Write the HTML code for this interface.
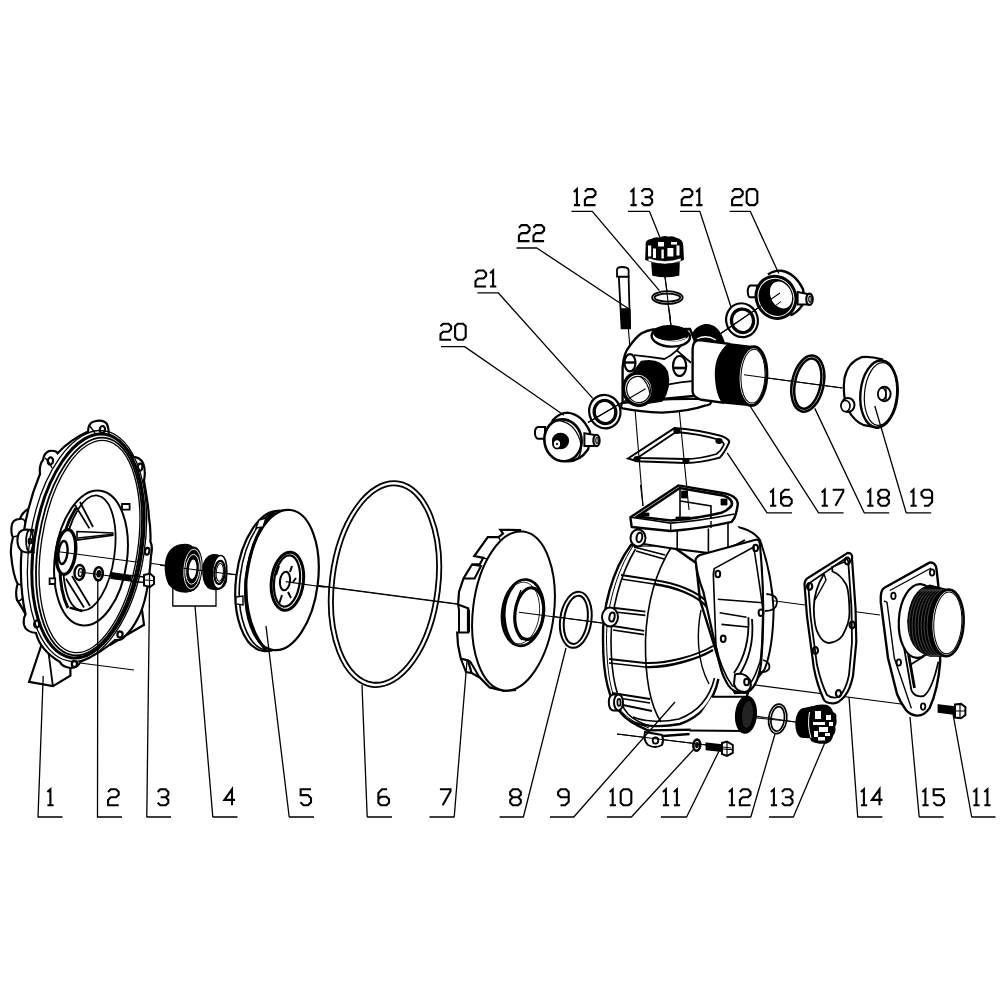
<!DOCTYPE html>
<html><head><meta charset="utf-8"><style>
html,body{margin:0;padding:0;background:#fff;width:1000px;height:1000px;overflow:hidden;font-family:"Liberation Sans",sans-serif;}
svg{display:block}
</style></head><body>
<svg width="1000" height="1000" viewBox="0 0 1000 1000"><g fill="none" stroke="#000" stroke-width="2.1" stroke-linejoin="miter" stroke-linecap="butt"><path transform="translate(47.40,789.30)" d="M0,2.8L3,0V16M0,16H6.2"/>
<path transform="translate(108.10,789.30)" d="M0,2.6L2.6,0H8L10.6,2.6V5.4L8,8H2.6L0,10.6V16H10.6"/>
<path transform="translate(157.70,789.30)" d="M0,2.6L2.6,0H8L10.6,2.6V5.4L8,8H3M8,8L10.6,10.6V13.4L8,16H2.6L0,13.4"/>
<path transform="translate(224.40,789.30)" d="M7.6,16V0L0,10.6H10.6"/>
<path transform="translate(300.40,789.30)" d="M10.6,0H0.3V5.8H7.4L10.6,9V13L7.6,16H3.2L0,13"/>
<path transform="translate(378.40,789.30)" d="M8.6,0H3.6L0,3.6V13.4L2.6,16H8L10.6,13.4V10L8,7.4H2.6L0,10"/>
<path transform="translate(439.90,789.30)" d="M0,0H10.6V2L2.8,16"/>
<path transform="translate(510.20,789.30)" d="M2.6,0H8L10.6,2.6V5.4L8,8H2.6L0,5.4V2.6ZM2.6,8L0,10.6V13.4L2.6,16H8L10.6,13.4V10.6L8,8"/>
<path transform="translate(558.10,789.30)" d="M2.4,16H7L10.6,12.4V2.6L8,0H2.6L0,2.6V5.4L2.6,8H10.6"/>
<path transform="translate(609.70,789.30)" d="M0,2.8L3,0V16M0,16H6.2"/>
<path transform="translate(620.70,789.30)" d="M2.6,0H8L10.6,2.6V13.4L8,16H2.6L0,13.4V2.6Z"/>
<path transform="translate(662.90,789.30)" d="M0,2.8L3,0V16M0,16H6.2"/>
<path transform="translate(673.90,789.30)" d="M0,2.8L3,0V16M0,16H6.2"/>
<path transform="translate(728.90,789.30)" d="M0,2.8L3,0V16M0,16H6.2"/>
<path transform="translate(739.90,789.30)" d="M0,2.6L2.6,0H8L10.6,2.6V5.4L8,8H2.6L0,10.6V16H10.6"/>
<path transform="translate(770.90,789.30)" d="M0,2.8L3,0V16M0,16H6.2"/>
<path transform="translate(781.90,789.30)" d="M0,2.6L2.6,0H8L10.6,2.6V5.4L8,8H3M8,8L10.6,10.6V13.4L8,16H2.6L0,13.4"/>
<path transform="translate(860.90,789.30)" d="M0,2.8L3,0V16M0,16H6.2"/>
<path transform="translate(871.90,789.30)" d="M7.6,16V0L0,10.6H10.6"/>
<path transform="translate(922.40,789.30)" d="M0,2.8L3,0V16M0,16H6.2"/>
<path transform="translate(933.40,789.30)" d="M10.6,0H0.3V5.8H7.4L10.6,9V13L7.6,16H3.2L0,13"/>
<path transform="translate(973.40,789.30)" d="M0,2.8L3,0V16M0,16H6.2"/>
<path transform="translate(984.40,789.30)" d="M0,2.8L3,0V16M0,16H6.2"/>
<path transform="translate(573.90,189.10)" d="M0,2.8L3,0V16M0,16H6.2"/>
<path transform="translate(584.90,189.10)" d="M0,2.6L2.6,0H8L10.6,2.6V5.4L8,8H2.6L0,10.6V16H10.6"/>
<path transform="translate(630.50,189.10)" d="M0,2.8L3,0V16M0,16H6.2"/>
<path transform="translate(641.50,189.10)" d="M0,2.6L2.6,0H8L10.6,2.6V5.4L8,8H3M8,8L10.6,10.6V13.4L8,16H2.6L0,13.4"/>
<path transform="translate(681.70,189.10)" d="M0,2.6L2.6,0H8L10.6,2.6V5.4L8,8H2.6L0,10.6V16H10.6"/>
<path transform="translate(696.30,189.10)" d="M0,2.8L3,0V16M0,16H6.2"/>
<path transform="translate(732.10,189.10)" d="M0,2.6L2.6,0H8L10.6,2.6V5.4L8,8H2.6L0,10.6V16H10.6"/>
<path transform="translate(746.70,189.10)" d="M2.6,0H8L10.6,2.6V13.4L8,16H2.6L0,13.4V2.6Z"/>
<path transform="translate(518.90,225.10)" d="M0,2.6L2.6,0H8L10.6,2.6V5.4L8,8H2.6L0,10.6V16H10.6"/>
<path transform="translate(533.50,225.10)" d="M0,2.6L2.6,0H8L10.6,2.6V5.4L8,8H2.6L0,10.6V16H10.6"/>
<path transform="translate(475.50,270.50)" d="M0,2.6L2.6,0H8L10.6,2.6V5.4L8,8H2.6L0,10.6V16H10.6"/>
<path transform="translate(490.10,270.50)" d="M0,2.8L3,0V16M0,16H6.2"/>
<path transform="translate(440.50,323.70)" d="M0,2.6L2.6,0H8L10.6,2.6V5.4L8,8H2.6L0,10.6V16H10.6"/>
<path transform="translate(455.10,323.70)" d="M2.6,0H8L10.6,2.6V13.4L8,16H2.6L0,13.4V2.6Z"/>
<path transform="translate(770.10,489.70)" d="M0,2.8L3,0V16M0,16H6.2"/>
<path transform="translate(781.10,489.70)" d="M8.6,0H3.6L0,3.6V13.4L2.6,16H8L10.6,13.4V10L8,7.4H2.6L0,10"/>
<path transform="translate(821.70,489.70)" d="M0,2.8L3,0V16M0,16H6.2"/>
<path transform="translate(832.70,489.70)" d="M0,0H10.6V2L2.8,16"/>
<path transform="translate(867.30,489.70)" d="M0,2.8L3,0V16M0,16H6.2"/>
<path transform="translate(878.30,489.70)" d="M2.6,0H8L10.6,2.6V5.4L8,8H2.6L0,5.4V2.6ZM2.6,8L0,10.6V13.4L2.6,16H8L10.6,13.4V10.6L8,8"/>
<path transform="translate(910.50,489.70)" d="M0,2.8L3,0V16M0,16H6.2"/>
<path transform="translate(921.50,489.70)" d="M2.4,16H7L10.6,12.4V2.6L8,0H2.6L0,2.6V5.4L2.6,8H10.6"/></g>
<path d="M57,551L603,623" fill="none" stroke="#000" stroke-width="1.1" />
<path d="M80,572L150,582" fill="none" stroke="#000" stroke-width="1.1" />
<path d="M80,663L134,670" fill="none" stroke="#000" stroke-width="1.1" />
<path d="M741,596.5L880,615" fill="none" stroke="#000" stroke-width="1.1" />
<path d="M740,683L901,704" fill="none" stroke="#000" stroke-width="1.1" />
<path d="M748,717L797,722" fill="none" stroke="#000" stroke-width="1.1" />
<path d="M617,734L731,748" fill="none" stroke="#000" stroke-width="1.1" />
<path d="M626,300L643,506" fill="none" stroke="#000" stroke-width="1.1" />
<path d="M669.4,310L689,510" fill="none" stroke="#000" stroke-width="1.1" />
<path d="M664.8,274.8L670.8,325" fill="none" stroke="#000" stroke-width="1.1" />
<path d="M780,293L720,334" fill="none" stroke="#000" stroke-width="1.1" />
<path d="M588,422.4L645.6,388.8" fill="none" stroke="#000" stroke-width="1.1" />
<path d="M744,374.8L842.4,388" fill="none" stroke="#000" stroke-width="1.1" />
<path d="M755,716L795,722" fill="none" stroke="#000" stroke-width="1.1" />
<path d="M42.4,642L29.1,681.8L52.9,686.1L70.4,675.6L70.4,668L78,650L50,630Z" fill="#fff" stroke="#000" stroke-width="2.2" />
<path d="M42.4,642L47.3,643.4L52.9,686.1" fill="none" stroke="#000" stroke-width="1.8" />
<path d="M138,580L144,624.8L124.8,636L110,645L100,640Z" fill="#fff" stroke="#000" stroke-width="2.2" />
<path d="M30,508Q22,512 20,519Q12,519 11.5,527Q11,535 13,537Q10,548 11.2,556Q13,575 17.6,584Q15,592 17,600Q20,604 25.6,614.4L40,600L40,508Z" fill="#fff" stroke="#000" stroke-width="2.2" />
<path d="M20,519Q26,518 26,527Q25,535 13,537" fill="none" stroke="#000" stroke-width="1.6" />
<path d="M17.6,584Q23,584 24,592Q24,601 17,601" fill="none" stroke="#000" stroke-width="1.6" />
<path d="M88,431.6Q88,423 94,421.5Q103,419 107,424Q109,429 108.8,434.4Q124,442 132.8,456.8Q140,457 143,463Q146,470 144,480.8Q149,510 148.8,516Q151,530 150.4,541.6Q153,547 151,556Q148,600 138,618Q132,630 125,636Q121,641 115,640Q100,654 80,662Q78,668 71,668Q62,667 60,662Q40,650 36,633Q26,632 24,625Q23,618 25.6,614.4Q20,590 21,560Q23,515 40,474Q39,465 43,460Q44,453 49,451Q56,450 57.6,453.2Q70,440 88,431.6Z" fill="#fff" stroke="#000" stroke-width="2.2" />
<ellipse cx="102.4" cy="429.6" rx="2.6" ry="3.6" transform="rotate(10 102.4 429.6)" fill="none" stroke="#000" stroke-width="2.2" />
<ellipse cx="140" cy="467.2" rx="2.4" ry="3.6" transform="rotate(10 140 467.2)" fill="none" stroke="#000" stroke-width="2.2" />
<ellipse cx="147.2" cy="551.2" rx="2.2" ry="3.4" transform="rotate(10 147.2 551.2)" fill="none" stroke="#000" stroke-width="2.2" />
<ellipse cx="50.4" cy="461" rx="2.6" ry="3.6" transform="rotate(10 50.4 461)" fill="none" stroke="#000" stroke-width="2.2" />
<ellipse cx="29.6" cy="540.8" rx="2.6" ry="3.6" transform="rotate(10 29.6 540.8)" fill="none" stroke="#000" stroke-width="2.2" />
<ellipse cx="36.8" cy="624" rx="2.6" ry="3.6" transform="rotate(10 36.8 624)" fill="none" stroke="#000" stroke-width="2.2" />
<ellipse cx="74.4" cy="664" rx="2.6" ry="3" transform="rotate(10 74.4 664)" fill="none" stroke="#000" stroke-width="2.2" />
<ellipse cx="120" cy="634.5" rx="2.6" ry="3" transform="rotate(10 120 634.5)" fill="none" stroke="#000" stroke-width="2.2" />
<path d="M89,425Q93,430 95,433M45,458Q49,461 52,468" fill="none" stroke="#000" stroke-width="1.4" />
<path d="M26,529.6Q17,530 17.4,541Q18,552 27,552.4L33.6,552Q30,541 33,530Z" fill="#fff" stroke="#000" stroke-width="2.0" />
<ellipse cx="29.6" cy="541" rx="3.5" ry="11" transform="rotate(0 29.6 541)" fill="#fff" stroke="#000" stroke-width="1.8" />
<ellipse cx="30" cy="541" rx="1.4" ry="2.6" transform="rotate(0 30 541)" fill="none" stroke="#000" stroke-width="2.0" />
<ellipse cx="87" cy="546" rx="57.5" ry="116.5" transform="rotate(8.7 87 546)" fill="none" stroke="#000" stroke-width="1.3" />
<ellipse cx="88" cy="546" rx="54" ry="113" transform="rotate(8.7 88 546)" fill="none" stroke="#000" stroke-width="3.0" />
<ellipse cx="89" cy="546.5" rx="50.8" ry="109.8" transform="rotate(8.7 89 546.5)" fill="none" stroke="#000" stroke-width="1.8" />
<ellipse cx="89.5" cy="546.5" rx="48.2" ry="107.2" transform="rotate(8.7 89.5 546.5)" fill="none" stroke="#000" stroke-width="1.3" />
<ellipse cx="91" cy="558" rx="36" ry="68" transform="rotate(8 91 558)" fill="#fff" stroke="#000" stroke-width="2.0" />
<ellipse cx="89.5" cy="553" rx="25" ry="58" transform="rotate(8 89.5 553)" fill="none" stroke="#000" stroke-width="1.8" />
<path d="M76,508Q62,530 60,560Q59,590 68,608" fill="none" stroke="#000" stroke-width="3.0" />
<path d="M75,505L89.4,528.4M80,502L93,527" fill="none" stroke="#000" stroke-width="1.8" />
<path d="M77,531.5L112.8,533L112.8,535.4L77,540Z" fill="#fff" stroke="#000" stroke-width="1.6" />
<path d="M78,538L112.8,534.2" fill="none" stroke="#000" stroke-width="1.4" />
<path d="M66,578.8L84,607.6M72,576L90,606" fill="none" stroke="#000" stroke-width="1.8" />
<path d="M69.6,607.6L82.2,611" fill="none" stroke="#000" stroke-width="2.5" />
<ellipse cx="66" cy="552" rx="9.5" ry="22.5" transform="rotate(6 66 552)" fill="#fff" stroke="#000" stroke-width="3.4" />
<ellipse cx="63" cy="552.5" rx="4.5" ry="11.5" transform="rotate(6 63 552.5)" fill="none" stroke="#000" stroke-width="2.4" />
<ellipse cx="79.5" cy="572.5" rx="5" ry="7.5" transform="rotate(5 79.5 572.5)" fill="#fff" stroke="#000" stroke-width="2.4" />
<ellipse cx="80.5" cy="572.5" rx="2" ry="4" transform="rotate(5 80.5 572.5)" fill="none" stroke="#000" stroke-width="1.6" />
<path d="M122,504h7.6v5.6h-7.6ZM49.6,578.4h5.6v5.6h-5.6Z" fill="#fff" stroke="#000" stroke-width="1.8" />
<path d="M155,540L155,540" fill="none" stroke="#000" stroke-width="1" />
<ellipse cx="98.5" cy="573.8" rx="4.3" ry="6.6" transform="rotate(5 98.5 573.8)" fill="#fff" stroke="#000" stroke-width="2.6" /><ellipse cx="98.8" cy="573.8" rx="1.6" ry="3" transform="rotate(5 98.8 573.8)" fill="#000" stroke="#000" stroke-width="1.6" />
<path d="M111,572.5L131,575.5V581L111,578.5Z" fill="#000" stroke="#000" stroke-width="1.2" />
<path d="M131,575.5L144,577M131,581L144,582.5" fill="none" stroke="#000" stroke-width="1.6" />
<path d="M144,575L150,573.6L154,577L154,584L150,587L144,585.5Z" fill="#fff" stroke="#000" stroke-width="2.0" />
<path d="M144,580L154,580.5M149.5,574V587" fill="none" stroke="#000" stroke-width="1.2" />
<path d="M180,545Q190,543 193,548L199,556Q202,570 199,583Q196,591 186,592Q175,592 169,584Q165,575 165.5,565Q167,548 180,545Z" fill="#000" stroke="#000" stroke-width="1.6" />
<ellipse cx="192" cy="569" rx="10" ry="22" transform="rotate(5 192 569)" fill="#000" stroke="#000" stroke-width="1.0" />
<ellipse cx="192.5" cy="569" rx="8.6" ry="20" transform="rotate(5 192.5 569)" fill="none" stroke="#fff" stroke-width="0.9" />
<ellipse cx="192.5" cy="569.3" rx="6.8" ry="15" transform="rotate(5 192.5 569.3)" fill="none" stroke="#fff" stroke-width="0.9" />
<ellipse cx="192.6" cy="569.3" rx="4.6" ry="10.6" transform="rotate(5 192.6 569.3)" fill="#fff" stroke="#000" stroke-width="1.6" />
<path d="M212,555Q220,554 224,560Q228,570 226,582Q223,590 215,589.5Q206,589 204,580Q202,570 204,563Q207,556 212,555Z" fill="#000" stroke="#000" stroke-width="1.6" />
<ellipse cx="219.5" cy="572" rx="7.2" ry="16.5" transform="rotate(5 219.5 572)" fill="#fff" stroke="#000" stroke-width="1.6" />
<ellipse cx="219.6" cy="572.4" rx="5.2" ry="11.6" transform="rotate(5 219.6 572.4)" fill="#fff" stroke="#000" stroke-width="2.2" />
<ellipse cx="219.8" cy="572.4" rx="3.6" ry="9" transform="rotate(5 219.8 572.4)" fill="#fff" stroke="#000" stroke-width="1.0" />
<path d="M172.8,588V606H216V588" fill="none" stroke="#000" stroke-width="1.3" />
<ellipse cx="272" cy="581" rx="36" ry="70.5" transform="rotate(7 272 581)" fill="#fff" stroke="#000" stroke-width="2.2" />
<ellipse cx="276" cy="580.5" rx="36" ry="70.5" transform="rotate(7 276 580.5)" fill="none" stroke="#000" stroke-width="1.6" />
<ellipse cx="282" cy="580" rx="36" ry="70.5" transform="rotate(7 282 580)" fill="#fff" stroke="#000" stroke-width="2.2" />
<path d="M275,512Q252,530 246,580Q244,625 266,650" fill="none" stroke="#000" stroke-width="3.2" />
<ellipse cx="287.4" cy="581.2" rx="16" ry="29.2" transform="rotate(7 287.4 581.2)" fill="#fff" stroke="#000" stroke-width="3.0" />
<ellipse cx="287" cy="581" rx="12.8" ry="25.8" transform="rotate(7 287 581)" fill="none" stroke="#000" stroke-width="2.2" />
<ellipse cx="285" cy="581" rx="5" ry="9.4" transform="rotate(7 285 581)" fill="none" stroke="#000" stroke-width="2.0" />
<path d="M279,566L276,575M291,598L288,592M282,595L279,604M292,566L290,572M296,578L293,582" fill="none" stroke="#000" stroke-width="2.0" />
<path d="M259,520L266,518L263,527L256,528ZM236,597L243,596L243,605L236,604Z" fill="#fff" stroke="#000" stroke-width="1.4" />
<ellipse cx="385" cy="584.1" rx="55.2" ry="103.5" transform="rotate(7 385 584.1)" fill="none" stroke="#000" stroke-width="1.8" /><ellipse cx="385" cy="584.1" rx="50.900000000000006" ry="99.2" transform="rotate(7 385 584.1)" fill="none" stroke="#000" stroke-width="1.8" />
<path d="M500.4,529.9L503,533.5L498.6,537.1L487.8,537.1L474.3,556L483.3,557.8L480,564L472,564.5L463.5,578.5L459,592L458.1,604.6L468,608.2L468,632.5L457.2,632.5L458,645L460.8,658.6L468,660.4L471.6,673L479.7,677.5L489.6,687.4L504,691L515,690L520,530Z" fill="#fff" stroke="#000" stroke-width="2.2" />
<path d="M472,564.5L481,566L474.6,578.5L463.5,578.5M458.1,604.6L459,610L459,632.5M468,608.2L469,611L469,632.5M468,660.4L470.5,662L479.6,677.5M460.8,658.6L466,672L471.6,673" fill="none" stroke="#000" stroke-width="2.0" />
<path d="M498.6,537.1L503,545M483.3,557.8L490,560" fill="none" stroke="#000" stroke-width="1.4" />
<ellipse cx="513.5" cy="611" rx="40.5" ry="80" transform="rotate(7 513.5 611)" fill="#fff" stroke="#000" stroke-width="2.0" />
<ellipse cx="522.9" cy="612.7" rx="20.7" ry="33.3" transform="rotate(7 522.9 612.7)" fill="#fff" stroke="#000" stroke-width="2.6" />
<ellipse cx="521" cy="613" rx="18.4" ry="31" transform="rotate(7 521 613)" fill="none" stroke="#000" stroke-width="0.8" />
<path d="M514,585Q504,597 504,615Q505,635 514,644" fill="none" stroke="#000" stroke-width="3.0" />
<ellipse cx="529.2" cy="613.6" rx="14.2" ry="26" transform="rotate(7 529.2 613.6)" fill="none" stroke="#000" stroke-width="3.2" />
<path d="M521,590Q514,605 515,622Q517,636 522,640" fill="none" stroke="#000" stroke-width="1.4" />
<ellipse cx="575.8" cy="619.8" rx="15.6" ry="28.2" transform="rotate(8 575.8 619.8)" fill="none" stroke="#000" stroke-width="2.0" /><ellipse cx="575.8" cy="619.8" rx="11.7" ry="24.3" transform="rotate(8 575.8 619.8)" fill="none" stroke="#000" stroke-width="2.0" />
<ellipse cx="777.7" cy="718.9" rx="9.1" ry="14.8" transform="rotate(7 777.7 718.9)" fill="none" stroke="#000" stroke-width="1.7" /><ellipse cx="777.7" cy="718.9" rx="6.699999999999999" ry="12.4" transform="rotate(7 777.7 718.9)" fill="none" stroke="#000" stroke-width="1.7" />
<ellipse cx="807.8" cy="383.6" rx="15.8" ry="28.5" transform="rotate(12 807.8 383.6)" fill="none" stroke="#000" stroke-width="2.5" /><ellipse cx="807.8" cy="383.6" rx="12.8" ry="25.5" transform="rotate(12 807.8 383.6)" fill="none" stroke="#000" stroke-width="2.5" />
<ellipse cx="742" cy="320.2" rx="15.8" ry="17" transform="rotate(-15 742 320.2)" fill="none" stroke="#000" stroke-width="2.2" /><ellipse cx="742.5" cy="320.8" rx="11" ry="11.8" transform="rotate(-15 742.5 320.8)" fill="none" stroke="#000" stroke-width="3.2" />
<ellipse cx="604.8" cy="411.6" rx="15.6" ry="16.8" transform="rotate(-15 604.8 411.6)" fill="none" stroke="#000" stroke-width="2.2" /><ellipse cx="605" cy="412" rx="10.8" ry="11.6" transform="rotate(-15 605 412)" fill="none" stroke="#000" stroke-width="3.2" />
<ellipse cx="667.4" cy="297.6" rx="15.3" ry="6.4" transform="rotate(0 667.4 297.6)" fill="none" stroke="#000" stroke-width="1.8" /><ellipse cx="667.4" cy="297.6" rx="12.9" ry="4.0" transform="rotate(0 667.4 297.6)" fill="none" stroke="#000" stroke-width="1.8" />
<path d="M728.6,525.4Q752,528 760,540Q772,574 773.6,610Q773,648 764.6,669.4L748,690" fill="#fff" stroke="#000" stroke-width="2.0" />
<path d="M766.4,594Q778,595 777,603Q776,611 765,611" fill="none" stroke="#000" stroke-width="1.8" />
<path d="M763,660Q771,662 769,669Q766,673 760,672" fill="none" stroke="#000" stroke-width="1.8" />
<path d="M631,545C612,570 602,610 603,640C603,675 608,700 621,713Q628,722 648,730.4L739,729L748,692L735,693L720,664L700,600L696,563L672,546Z" fill="#fff" stroke="#000" stroke-width="2.4" />
<path d="M635.5,549C620,575 611,610 611,640C611,675 616,700 628,714Q636,722 650,726" fill="none" stroke="#000" stroke-width="1.6" />
<path d="M633,546C616,572 606,610 606.5,640C607,676 612,702 624,714Q632,722 649,728" fill="none" stroke="#000" stroke-width="1.0" />
<path d="M672,546C658,568 647,600 645.5,640C645,675 650,705 661,722" fill="none" stroke="#000" stroke-width="1.6" />
<path d="M634,547L665,555" fill="none" stroke="#000" stroke-width="1.8" />
<path d="M621,575L654,580" fill="none" stroke="#000" stroke-width="1.8" />
<path d="M615,608L645.4,611.6" fill="none" stroke="#000" stroke-width="1.8" />
<path d="M613,626L644.2,630.8" fill="none" stroke="#000" stroke-width="1.8" />
<path d="M609,659L645,663" fill="none" stroke="#000" stroke-width="1.8" />
<path d="M612,693L650,699" fill="none" stroke="#000" stroke-width="1.8" />
<path d="M618,704L652,711" fill="none" stroke="#000" stroke-width="1.8" />
<path d="M636,551L664,559" fill="none" stroke="#000" stroke-width="1.6" />
<path d="M621,579L654,584" fill="none" stroke="#000" stroke-width="1.6" />
<path d="M615,612L645.4,615.4" fill="none" stroke="#000" stroke-width="1.6" />
<path d="M613,630L644.2,634.6" fill="none" stroke="#000" stroke-width="1.6" />
<path d="M609,663L645,667" fill="none" stroke="#000" stroke-width="1.6" />
<path d="M612,697L650,703" fill="none" stroke="#000" stroke-width="1.6" />
<path d="M654,580C675,583 698,591 709,604" fill="none" stroke="#000" stroke-width="2.0" />
<path d="M654,584C675,587 697,595 708,608" fill="none" stroke="#000" stroke-width="2.4" />
<path d="M645,663C668,664 698,655 713,646" fill="none" stroke="#000" stroke-width="2.0" />
<path d="M645,667C668,668 698,659 713,650" fill="none" stroke="#000" stroke-width="2.4" />
<path d="M718.4,679C714,700 703,716 680,724C660,728 640,726 630,721" fill="none" stroke="#000" stroke-width="2.4" />
<path d="M714.5,678C710,697 700,711 679,719C660,723 642,721 633,717" fill="none" stroke="#000" stroke-width="1.6" />
<path d="M701,610C697,630 696,660 709,684" fill="none" stroke="#000" stroke-width="1.4" />
<path d="M632,527L637,545L672,548Q700,553 710,553L745,538L733,519Z" fill="#fff" stroke="#000" stroke-width="0" />
<path d="M637,527V543M637,543Q672,549 708.4,553Q728,550 745,540" fill="none" stroke="#000" stroke-width="1.8" />
<path d="M677.2,531V548M708.4,528.5V553M728,523V548" fill="none" stroke="#000" stroke-width="1.6" />
<path d="M630.4,517.3L678.5,485.4L724,493.2Q740,497 737.5,506Q736.5,513 734.4,518L731.8,521.8Q705,528 670.7,531Q650,529 631.7,527Z" fill="#fff" stroke="#000" stroke-width="2.4" />
<path d="M630.4,517.3Q650,520 670.7,523.1Q700,521 734.4,514" fill="none" stroke="#000" stroke-width="1.6" />
<path d="M670.7,523.1V531M711,521V528" fill="none" stroke="#000" stroke-width="1.4" />
<path d="M637,516.6L679.8,488L724,495.8Q733,499 731.8,505Q729,510 721.4,512.7Q700,518 670.7,520.5Z" fill="#fff" stroke="#000" stroke-width="2.6" />
<path d="M680,488.5V518M680.5,501L711,506V519" fill="none" stroke="#000" stroke-width="1.6" />
<path d="M681.5,491h6v7h-6ZM721,499h6v6h-6ZM641,513h8v3h-8ZM676,517h14v3h-14Z" fill="#000" stroke="#000" stroke-width="0.8" />
<ellipse cx="638" cy="538" rx="7.5" ry="8.5" transform="rotate(0 638 538)" fill="#fff" stroke="#000" stroke-width="2.0" />
<ellipse cx="639.4" cy="537.4" rx="2.8" ry="4.8" transform="rotate(10 639.4 537.4)" fill="none" stroke="#000" stroke-width="2.0" />
<ellipse cx="610" cy="617" rx="8" ry="9.5" transform="rotate(0 610 617)" fill="#fff" stroke="#000" stroke-width="2.0" />
<ellipse cx="612" cy="617" rx="2.6" ry="4.6" transform="rotate(10 612 617)" fill="none" stroke="#000" stroke-width="2.0" />
<path d="M620,694.4L613,694.4Q608.8,696 608.8,702Q609,710 613,710.4L620,710.4Z" fill="#fff" stroke="#000" stroke-width="2.0" />
<ellipse cx="618.5" cy="702.4" rx="4.5" ry="8" transform="rotate(0 618.5 702.4)" fill="#fff" stroke="#000" stroke-width="2.0" />
<ellipse cx="619" cy="702.4" rx="1.6" ry="3.5" transform="rotate(0 619 702.4)" fill="none" stroke="#000" stroke-width="1.8" />
<path d="M652.8,736.8L689.6,734" fill="none" stroke="#000" stroke-width="2.6" />
<path d="M645,732Q643,740 648,745Q655,749 662,745Q664,740 662,735Z" fill="#fff" stroke="#000" stroke-width="2.0" />
<ellipse cx="655.5" cy="740.5" rx="2.8" ry="3.2" transform="rotate(0 655.5 740.5)" fill="none" stroke="#000" stroke-width="1.8" />
<path d="M696,563Q694,558 700,555L755.6,539.8Q760,539 760,545Q766,610 761,664Q757,690 745,693Q733,693 728,685Q722,675 719.6,664L703.4,592Q697,575 696,563Z" fill="#fff" stroke="#000" stroke-width="2.2" />
<path d="M714.2,568.6L753.8,547Q762,600 762.8,610Q762,660 759.2,664Q752,686 744.8,687.4Q736,688 732.2,685.6Q721,670 716,646L713.3,574Z" fill="none" stroke="#000" stroke-width="1.6" />
<path d="M717.8,599.2L762.8,602.8M719.6,612.7L746.6,617.2M721.4,624.4L748,627" fill="none" stroke="#000" stroke-width="1.6" />
<path d="M748.4,617.2Q750,650 734,673M752,619Q755,652 738,677" fill="none" stroke="#000" stroke-width="1.8" />
<ellipse cx="717.8" cy="574" rx="2.4" ry="3.2" transform="rotate(0 717.8 574)" fill="none" stroke="#000" stroke-width="2.0" />
<ellipse cx="755.6" cy="547.9" rx="2.4" ry="3.2" transform="rotate(0 755.6 547.9)" fill="none" stroke="#000" stroke-width="2.0" />
<ellipse cx="761" cy="612.7" rx="2.4" ry="3.2" transform="rotate(0 761 612.7)" fill="none" stroke="#000" stroke-width="2.0" />
<ellipse cx="723.2" cy="638.8" rx="2.4" ry="3.2" transform="rotate(0 723.2 638.8)" fill="none" stroke="#000" stroke-width="2.0" />
<ellipse cx="746.6" cy="682" rx="2.4" ry="3.2" transform="rotate(0 746.6 682)" fill="none" stroke="#000" stroke-width="2.0" />
<path d="M712,696.8L746,696.8L746,731L689.6,730.4" fill="#fff" stroke="#000" stroke-width="2.0" />
<ellipse cx="746" cy="714.8" rx="10" ry="18" transform="rotate(5 746 714.8)" fill="#000" stroke="#000" stroke-width="2.0" />
<ellipse cx="747.5" cy="714.5" rx="6" ry="14" transform="rotate(5 747.5 714.5)" fill="#222" stroke="#000" stroke-width="1.0" />
<path d="M735,674.4Q745,672 750,680Q753,690 745,692Q736,692 734,684Z" fill="#fff" stroke="#000" stroke-width="2.0" />
<ellipse cx="746.6" cy="682" rx="2.4" ry="3.2" transform="rotate(0 746.6 682)" fill="none" stroke="#000" stroke-width="2.0" />
<ellipse cx="696.8" cy="745.2" rx="3.4" ry="5.6" transform="rotate(5 696.8 745.2)" fill="#fff" stroke="#000" stroke-width="2.6" /><ellipse cx="697" cy="745.2" rx="1.2" ry="2.4" transform="rotate(5 697 745.2)" fill="#000" stroke="#000" stroke-width="1.4" />
<path d="M706.4,743.2L721.6,745V751.2L706.4,749.6Z" fill="#000" stroke="#000" stroke-width="1.6" />
<path d="M722,743L727,741.6L732.8,745L732.8,753L727,756L722,754Z" fill="#fff" stroke="#000" stroke-width="2.0" />
<path d="M722,749L732.8,749.5M727,742V756" fill="none" stroke="#000" stroke-width="1.2" />
<ellipse cx="803" cy="723" rx="7" ry="14" transform="rotate(3 803 723)" fill="#000" stroke="#000" stroke-width="1.5" />
<path d="M803,709L812,707L814,738L803,737Z" fill="#000" stroke="#000" stroke-width="1.5" />
<path d="M812,708Q818,705 826,706Q831,708 832,713Q836,714 835,718Q836,724 834,726Q835,732 832,735Q831,741 826,742.5Q816,743 812,740Q806,725 812,708Z" fill="#000" stroke="#000" stroke-width="2.6" />
<path d="M809.5,712Q807,725 811,738" fill="none" stroke="#fff" stroke-width="1.0" />
<rect x="815" y="711" width="6" height="8" fill="#fff"/>
<rect x="813" y="722" width="12" height="3" fill="#fff"/>
<rect x="819" y="727" width="9" height="5" fill="#fff"/>
<rect x="814" y="731" width="4" height="6" fill="#fff"/>
<rect x="818" y="737" width="7" height="3.5" fill="#fff"/>
<rect x="826" y="715" width="5" height="5" fill="#fff"/>
<rect x="829" y="722" width="4" height="4" fill="#fff"/>
<rect x="825" y="733" width="5" height="3" fill="#fff"/>
<path d="M847.8,552.8Q853,553 852,558.7L855.5,608L856.3,642L853,676Q850,690 844.4,696.5Q838,704 832.5,703.3Q826,703 824,700Q817,685 813.8,667.5L807,616.5L804.5,584.2Q805,579 808.7,577.4Z" fill="#fff" stroke="#000" stroke-width="2.2" />
<path d="M845.5,558.5Q849,560 848.5,565L851.5,608L852,642L849,675Q846,690 839,697Q832,699 827,695Q821,683 817,665L810.5,616L808.5,588Q808.5,583 811,582Z" fill="none" stroke="#000" stroke-width="1.8" />
<path d="M824,574Q814,590 813.8,608Q814,628 819,635.2Q823,643 829,643Q838,642 842.7,635.2Q850,622 849.5,611.4Q849,590 846,584.2Q840,574 832.5,571.5L832,567L844,562" fill="none" stroke="#000" stroke-width="1.8" />
<path d="M824,574L826,580L815,600" fill="none" stroke="#000" stroke-width="1.4" />

<ellipse cx="847.3" cy="561" rx="2.6" ry="3.4" transform="rotate(0 847.3 561)" fill="none" stroke="#000" stroke-width="2.2" />

<ellipse cx="809.6" cy="586.4" rx="2.6" ry="3.4" transform="rotate(0 809.6 586.4)" fill="none" stroke="#000" stroke-width="2.2" />

<ellipse cx="852.2" cy="625" rx="2.6" ry="3.4" transform="rotate(0 852.2 625)" fill="none" stroke="#000" stroke-width="2.2" />

<ellipse cx="815.4" cy="650.5" rx="2.6" ry="3.4" transform="rotate(0 815.4 650.5)" fill="none" stroke="#000" stroke-width="2.2" />

<ellipse cx="838.5" cy="693.5" rx="2.6" ry="3.4" transform="rotate(0 838.5 693.5)" fill="none" stroke="#000" stroke-width="2.2" />
<path d="M929.4,562.6Q936,562 936.6,569.8L938.4,586L940.2,661.6Q938,690 929.4,708.4Q924,716 916.8,715.6Q910,715 906,710Q900,702 897,694L888,658L880.8,602.2Q880,590 884.4,587.8Z" fill="#fff" stroke="#000" stroke-width="2.4" />
<path d="M888,586L929.4,562.6M889.8,590.5L931.2,568" fill="none" stroke="#000" stroke-width="1.4" />
<path d="M884,601L887,602.2L894.3,658L911.4,708.4" fill="none" stroke="#000" stroke-width="1.4" />
<path d="M902.4,638.2L911.4,690.4Q915,698 924,695.8Q932,690 938.4,661.6" fill="none" stroke="#000" stroke-width="1.8" />
<path d="M906,640L914.5,688" fill="none" stroke="#000" stroke-width="2.8" />
<path d="M909.6,665.2L924,656.2" fill="none" stroke="#000" stroke-width="1.6" />
<ellipse cx="918.6" cy="621" rx="19.8" ry="37" transform="rotate(3 918.6 621)" fill="#fff" stroke="#000" stroke-width="2.2" />
<path d="M930,585Q910,590 907.8,621Q908,650 930,656.2L947.4,656.2L947.4,589.6Z" fill="#000" stroke="#000" stroke-width="1.2" />
<clipPath id="thr15"><path d="M930,585Q910,590 907.8,621Q908,650 930,656.2L947.4,656.2L947.4,589.6Z"/></clipPath>
<g clip-path="url(#thr15)">
<path d="M945.1,589.6A16.2,33.3 3 0 0 941.6999999999999,656.1999999999999" fill="none" stroke="#999" stroke-width="0.45" />
<path d="M942.1,589.6A16.2,33.3 3 0 0 938.6999999999999,656.1999999999999" fill="none" stroke="#999" stroke-width="0.45" />
<path d="M939.1,589.6A16.2,33.3 3 0 0 935.6999999999999,656.1999999999999" fill="none" stroke="#999" stroke-width="0.45" />
<path d="M936.1,589.6A16.2,33.3 3 0 0 932.6999999999999,656.1999999999999" fill="none" stroke="#999" stroke-width="0.45" />
<path d="M933.1,589.6A16.2,33.3 3 0 0 929.6999999999999,656.1999999999999" fill="none" stroke="#999" stroke-width="0.45" />
<path d="M930.1,589.6A16.2,33.3 3 0 0 926.6999999999999,656.1999999999999" fill="none" stroke="#999" stroke-width="0.45" />
<path d="M927.1,589.6A16.2,33.3 3 0 0 923.6999999999999,656.1999999999999" fill="none" stroke="#999" stroke-width="0.45" />
<path d="M924.1,589.6A16.2,33.3 3 0 0 920.6999999999999,656.1999999999999" fill="none" stroke="#999" stroke-width="0.45" />
<path d="M921.1,589.6A16.2,33.3 3 0 0 917.6999999999999,656.1999999999999" fill="none" stroke="#999" stroke-width="0.45" />
<path d="M918.1,589.6A16.2,33.3 3 0 0 914.6999999999999,656.1999999999999" fill="none" stroke="#999" stroke-width="0.45" />
<path d="M915.1,589.6A16.2,33.3 3 0 0 911.6999999999999,656.1999999999999" fill="none" stroke="#999" stroke-width="0.45" />
<path d="M912.1,589.6A16.2,33.3 3 0 0 908.6999999999999,656.1999999999999" fill="none" stroke="#999" stroke-width="0.45" />
</g>
<ellipse cx="947.4" cy="622.9" rx="16.2" ry="33.3" transform="rotate(3 947.4 622.9)" fill="#fff" stroke="#000" stroke-width="2.6" />
<ellipse cx="947.8" cy="622.9" rx="14" ry="31" transform="rotate(3 947.8 622.9)" fill="none" stroke="#000" stroke-width="1.0" />
<ellipse cx="932.1" cy="572.5" rx="2.2" ry="3.2" transform="rotate(0 932.1 572.5)" fill="none" stroke="#000" stroke-width="1.8" />
<ellipse cx="893.4" cy="595.9" rx="2.2" ry="3.2" transform="rotate(0 893.4 595.9)" fill="none" stroke="#000" stroke-width="1.8" />
<ellipse cx="898.8" cy="662.5" rx="2.2" ry="3.2" transform="rotate(0 898.8 662.5)" fill="none" stroke="#000" stroke-width="1.8" />
<ellipse cx="923.1" cy="706.6" rx="2.2" ry="3.2" transform="rotate(0 923.1 706.6)" fill="none" stroke="#000" stroke-width="1.8" />
<path d="M938.4,705L954.5,707V714L938.4,712Z" fill="#000" stroke="#000" stroke-width="1.6" />
<path d="M955,704.5L961,703.9L965.4,707L965.4,715L961,718.3L955,717.5Z" fill="#fff" stroke="#000" stroke-width="2.0" />
<path d="M955,711L965,711M960,704V718" fill="none" stroke="#000" stroke-width="1.2" />
<path d="M628,458.5L674.8,427.9Q700,430 721.6,436Q731,440 728.8,443.2Q725,452 719.8,457.6Q700,463 685.6,463L637,461.2Z" fill="none" stroke="#000" stroke-width="2.0" />
<path d="M638,457.5L676,432Q700,434 718,439.5Q725,442 723.5,445.5Q721,451 716.5,454Q700,459 685,459L641,458Z" fill="none" stroke="#000" stroke-width="1.8" />
<ellipse cx="637" cy="459" rx="2.8" ry="2.2" transform="rotate(0 637 459)" fill="#000" stroke="#000" stroke-width="1.6" />
<ellipse cx="677" cy="431" rx="2.8" ry="2.2" transform="rotate(0 677 431)" fill="#000" stroke="#000" stroke-width="1.6" />
<ellipse cx="719" cy="441" rx="2.8" ry="2.2" transform="rotate(0 719 441)" fill="#000" stroke="#000" stroke-width="1.6" />
<ellipse cx="686" cy="461" rx="2.8" ry="2.2" transform="rotate(0 686 461)" fill="#000" stroke="#000" stroke-width="1.6" />
<path d="M690.7,342.8Q692,328 705,325Q718,324 724,342.8Z" fill="#000" stroke="#000" stroke-width="2.0" />
<path d="M697,339Q706,334 716,340" fill="none" stroke="#fff" stroke-width="1.4" />
<path d="M621,407Q622,402 622.6,402.7Q660,398 705,399L711,401Q712,405 705,405.6Q690,411 662,412.6Q640,412 622.6,408.4Z" fill="#fff" stroke="#000" stroke-width="2.2" />
<path d="M622.6,402.7L622.6,367.5Q624,352 629.3,346.6Q636,337 641.6,333.3Q648,330 653,329.5L690,329L696,343.8L694,396L622.6,402.7Z" fill="#fff" stroke="#000" stroke-width="2.4" />
<path d="M634,355.2Q650,357 664.4,359Q671,356 676.8,350.4Q684,342 691,335.2M676.8,350.4L691,362.8M667.3,384.6Q680,382 694,380.8" fill="none" stroke="#000" stroke-width="1.8" />
<ellipse cx="670.8" cy="336.4" rx="19.2" ry="10.2" transform="rotate(3 670.8 336.4)" fill="#fff" stroke="#000" stroke-width="2.4" />
<ellipse cx="671" cy="333.5" rx="17" ry="7" transform="rotate(3 671 333.5)" fill="#000" stroke="#000" stroke-width="2.0" />
<path d="M657,339Q671,344 686,338" fill="none" stroke="#fff" stroke-width="1.2" />
<ellipse cx="630" cy="362.8" rx="5.5" ry="8.6" transform="rotate(0 630 362.8)" fill="#fff" stroke="#000" stroke-width="2.2" />
<path d="M624.8,362.5h10.5" fill="none" stroke="#000" stroke-width="2.4" />
<ellipse cx="679.6" cy="366" rx="6.6" ry="10" transform="rotate(0 679.6 366)" fill="#fff" stroke="#000" stroke-width="2.2" />
<path d="M673.5,368h12.5" fill="none" stroke="#000" stroke-width="2.6" />
<path d="M641.6,361.8Q660,358 667,372Q671,388 661.6,400.8L640,404L634,372Z" fill="#000" stroke="#000" stroke-width="2.2" />
<ellipse cx="638.3" cy="389.3" rx="14.7" ry="16.2" transform="rotate(-12 638.3 389.3)" fill="#fff" stroke="#000" stroke-width="3.4" />
<ellipse cx="638.5" cy="389.5" rx="11.8" ry="13.2" transform="rotate(-12 638.5 389.5)" fill="none" stroke="#000" stroke-width="1.2" />
<path d="M640,376Q648,382 650,394" fill="none" stroke="#000" stroke-width="1.2" />
<path d="M699.3,340L728.7,343.8L723,402.7L701.2,399.8Q692.6,397 692.6,391.3L692.6,349Q693,340 699.3,340Z" fill="#fff" stroke="#000" stroke-width="2.4" />
<path d="M728.7,343.8C719,352 715.5,364 715.6,374C716,388 718,397 723,402.7L752,405.6L752,346.6Z" fill="#000" stroke="#000" stroke-width="1.6" />
<ellipse cx="752.5" cy="376.1" rx="14.3" ry="29.5" transform="rotate(3 752.5 376.1)" fill="#fff" stroke="#000" stroke-width="3.0" />
<ellipse cx="753" cy="376.1" rx="12" ry="27" transform="rotate(3 753 376.1)" fill="none" stroke="#000" stroke-width="1.0" />
<path d="M882,359.4Q870,356 861.5,357.2Q848,362 844.5,378Q842,395 848,410Q855,422 864,425.2L878,427.6Z" fill="#fff" stroke="#000" stroke-width="2.2" />
<ellipse cx="879" cy="394" rx="18.6" ry="33.6" transform="rotate(5 879 394)" fill="#fff" stroke="#000" stroke-width="2.4" />
<ellipse cx="880.5" cy="394" rx="16" ry="31.5" transform="rotate(5 880.5 394)" fill="none" stroke="#000" stroke-width="1.2" />
<ellipse cx="848" cy="405" rx="6.5" ry="7" transform="rotate(0 848 405)" fill="#fff" stroke="#000" stroke-width="2.0" />
<ellipse cx="845.5" cy="406" rx="4.5" ry="5.5" transform="rotate(0 845.5 406)" fill="#fff" stroke="#000" stroke-width="1.6" />
<ellipse cx="884.4" cy="394" rx="6.2" ry="7.2" transform="rotate(0 884.4 394)" fill="#fff" stroke="#000" stroke-width="2.0" />
<ellipse cx="882" cy="394" rx="4" ry="6" transform="rotate(0 882 394)" fill="#fff" stroke="#000" stroke-width="1.6" />
<path d="M886,388v12" fill="none" stroke="#000" stroke-width="1.4" />
<path d="M545,427L538,427Q534.9,428 534.9,432.5Q535,438 538,438.7L545,438.7Z" fill="#fff" stroke="#000" stroke-width="2.0" />
<path d="M553,420Q560,412.6 567.3,412.6Q582,414 589.8,431.5Q591,440 588,449.5Q580,461 568.2,461.2Q550,460 544.8,439.6Z" fill="#fff" stroke="#000" stroke-width="2.4" />
<path d="M584.4,433.3L595,435L595,446L584.4,445.9Z" fill="#fff" stroke="#000" stroke-width="2.0" />
<ellipse cx="596.5" cy="440.5" rx="3.1" ry="5.6" transform="rotate(0 596.5 440.5)" fill="#fff" stroke="#000" stroke-width="2.2" />
<ellipse cx="597" cy="440.5" rx="1.2" ry="3" transform="rotate(0 597 440.5)" fill="none" stroke="#000" stroke-width="1.2" />
<ellipse cx="563" cy="440.3" rx="18.6" ry="21" transform="rotate(-10 563 440.3)" fill="#fff" stroke="#000" stroke-width="2.6" />
<path d="M552,421Q572,418 580,440Q583,452 578,458" fill="none" stroke="#000" stroke-width="1.2" />
<ellipse cx="560.5" cy="441" rx="7.8" ry="7.5" transform="rotate(0 560.5 441)" fill="#000" stroke="#000" stroke-width="1.6" />
<ellipse cx="557" cy="444" rx="4" ry="4.6" transform="rotate(0 557 444)" fill="#fff" stroke="#000" stroke-width="1.8" />
<ellipse cx="557" cy="444" rx="0.8" ry="0.8" transform="rotate(0 557 444)" fill="#000" stroke="#000" stroke-width="0.8" />
<path d="M757.1,285.6L750,285.6Q747.7,287 747.7,291Q748,297 750,297.3L757.1,297.3Z" fill="#fff" stroke="#000" stroke-width="2.0" />
<path d="M767.9,274.4Q775,270 781.4,270.75Q795,273 803,289.2Q805,298 802.1,305.4Q797,313 790.4,315.3L770,300Z" fill="#fff" stroke="#000" stroke-width="0" />
<path d="M767.9,274.4Q775,270 781.4,270.75Q795,273 803,289.2Q805,298 802.1,305.4Q797,313 790.4,315.3" fill="none" stroke="#000" stroke-width="2.4" />
<path d="M797.6,292L808,294L808,304.5L797.6,304.5Z" fill="#fff" stroke="#000" stroke-width="2.0" />
<ellipse cx="809.5" cy="299.2" rx="3.2" ry="5.6" transform="rotate(0 809.5 299.2)" fill="#fff" stroke="#000" stroke-width="2.2" />
<ellipse cx="810" cy="299.2" rx="1.2" ry="3" transform="rotate(0 810 299.2)" fill="none" stroke="#000" stroke-width="1.2" />
<ellipse cx="776" cy="297.3" rx="19.8" ry="21.6" transform="rotate(-25 776 297.3)" fill="#000" stroke="#000" stroke-width="2.6" />
<ellipse cx="776" cy="297.3" rx="17.6" ry="19.4" transform="rotate(-25 776 297.3)" fill="none" stroke="#fff" stroke-width="1.0" />
<ellipse cx="781" cy="295" rx="10.5" ry="14" transform="rotate(-25 781 295)" fill="#fff" stroke="#000" stroke-width="0" />
<path d="M771,309L781,301.5" fill="none" stroke="#000" stroke-width="1.0" />
<path d="M652,263L679,263L678.5,275Q665,278 653,275Z" fill="#000" stroke="#000" stroke-width="1.6" />
<path d="M647,245Q646,241 652,240Q655,238 660,239Q664,236 668,238Q673,237 676,239Q682,240 682,246L682.6,259Q665,266 646.5,259Z" fill="#000" stroke="#000" stroke-width="2.6" />
<path d="M648.5,258Q665,264 681,258L681,261Q665,267 648,261Z" fill="#fff" stroke="#000" stroke-width="0.5" />
<rect x="648" y="245.5" width="3.2" height="11" fill="#fff"/>
<rect x="653" y="248.5" width="3" height="9.5" fill="#fff"/>
<rect x="658" y="242" width="6" height="4.5" fill="#fff"/>
<rect x="661.4" y="249.5" width="2.4" height="9" fill="#fff"/>
<rect x="667.4" y="248" width="6" height="8.5" fill="#fff"/>
<rect x="671" y="242" width="6" height="2.6" fill="#fff"/>
<rect x="676.5" y="245.5" width="3" height="10" fill="#fff"/>
<path d="M618.8,276.6L628.6,276.6L630,328.4L621.6,328.4Z" fill="#fff" stroke="#000" stroke-width="1.8" />
<path d="M621,308.8L630,308.8L630.5,328.4L621.6,328.4Z" fill="#000" stroke="#000" stroke-width="1.0" />
<path d="M617,270Q617,267 622,267Q628,267 628.6,270L628.6,276.6L617,276.6Z" fill="#fff" stroke="#000" stroke-width="1.8" />
<path d="M57,551.5L140,562.5M160,565.2L234.8,574.8M285.8,581.6L325,587.2M317,585.8L457,604.2M519,612.3L605,623.5M80,572L110,576" fill="none" stroke="#000" stroke-width="1.1" />
<path d="M588,422.4L645.6,388.8M780,293L720,334M664.8,276L667,291M668,303L670.8,325M744,374.8L842.4,388M640.5,485L643,506M687,490L689,510M617,734L731,748" fill="none" stroke="#000" stroke-width="1.1" />
<g fill="none" stroke="#000" stroke-width="1.3"><path d="M37.5,817H62.5M38,817L43.2,676"/>
<path d="M97,817H122M97.5,817L97.8,580"/>
<path d="M146.5,817H171M146.8,817L149.6,584"/>
<path d="M212.6,817H237.5M212.8,817L195,606"/>
<path d="M289,817H314M289.2,817L266,626"/>
<path d="M367,817H392M367.2,817L362,685"/>
<path d="M429.5,817H454.4M454.2,817L467,661"/>
<path d="M499.6,817H523.6M523.4,817L566,648"/>
<path d="M550,817H574M573.8,817L675,702"/>
<path d="M606.9,817H631.6M631.4,817L694,749"/>
<path d="M660.9,817H686.8M686.6,817L719,751"/>
<path d="M726.4,817H751M750.8,817L775,734"/>
<path d="M769,817H793.6M793.4,817L826,740"/>
<path d="M857.5,817H882.4M857.7,817L849,697"/>
<path d="M919,817H943.6M919.2,817L910,717"/>
<path d="M971.5,817H995.5M971.7,817L953,714"/>
<path d="M571.5,211.3H592.5M592.3,211.3L659.4,290.6"/>
<path d="M628,211.3H649.6M649.4,211.3L661,240"/>
<path d="M680,211.3H700M699.8,211.3L731,307"/>
<path d="M729.6,211.3H750.4M750.2,211.3L778.8,273.6"/>
<path d="M516.5,248H537M536.8,248L628.6,308.8"/>
<path d="M477.4,292.8H498.4M498.2,292.8L592.8,398.4"/>
<path d="M441,346.6H464.8M464.6,346.6L564,415.2"/>
<path d="M766.8,512.8H792M767,512.8L727.2,452.8"/>
<path d="M818.4,512.8H843.6M818.6,512.8L750,406"/>
<path d="M864,512.8H889.2M864.2,512.8L814.8,408.4"/>
<path d="M906,512.8H931.2M906.2,512.8L874.8,406"/></g></svg>
</body></html>
